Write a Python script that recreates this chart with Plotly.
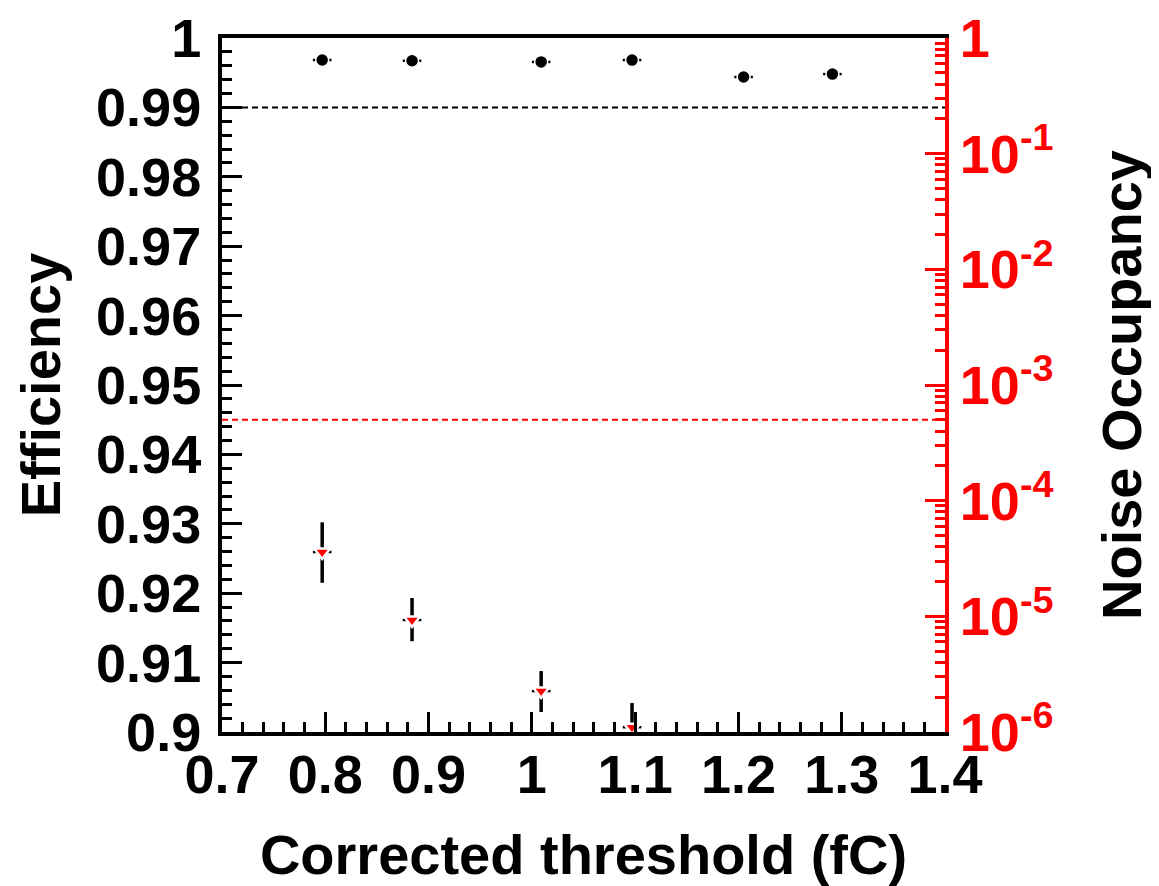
import numpy as np
import plotly.graph_objects as go

# efficiency points (left axis)
thr = [0.797, 0.884, 1.009, 1.097, 1.205, 1.291]
eff = [0.99683, 0.99672, 0.99655, 0.99682, 0.99438, 0.99480]
eff_err = [0.0001, 0.0001, 0.0001, 0.0001, 0.0001, 0.00015]
thr_err = [0.009, 0.009, 0.009, 0.009, 0.009, 0.009]

# noise occupancy points (right axis, log)
thr_noise = [0.797, 0.884, 1.009, 1.097]
noise = [3.6e-5, 9.3e-6, 2.26e-6, 1.1e-6]
noise_up = [6.5e-5, 1.44e-5, 3.37e-6, 1.78e-6]
noise_lo = [1.95e-5, 6.1e-6, 1.49e-6, 6.0e-7]

eff_target = 0.99
noise_target = 5e-4

x_ticks = [0.7, 0.8, 0.9, 1.0, 1.1, 1.2, 1.3, 1.4]
log_ticks = [1, 1e-1, 1e-2, 1e-3, 1e-4, 1e-5, 1e-6]
log_labels = ["1", "10<sup>-1</sup>", "10<sup>-2</sup>", "10<sup>-3</sup>",
              "10<sup>-4</sup>", "10<sup>-5</sup>", "10<sup>-6</sup>"]
log_minor = [m * 10.0 ** e for e in range(-6, 0) for m in range(2, 10)]

FONT = "Liberation Sans"
RED = "#ff0000"
TICK_SIZE = 54
TITLE_SIZE = 56

fig = go.Figure()

fig.add_trace(go.Scatter(
    x=[x_ticks[0], x_ticks[-1]], y=[eff_target, eff_target],
    mode="lines", line=dict(color="black", width=2, dash="6px,4px"),
    showlegend=False, hoverinfo="skip",
))
fig.add_trace(go.Scatter(
    x=[x_ticks[0], x_ticks[-1]], y=[noise_target, noise_target],
    yaxis="y2", mode="lines", line=dict(color=RED, width=2, dash="6px,4px"),
    showlegend=False, hoverinfo="skip",
))

fig.add_trace(go.Scatter(
    x=thr, y=eff, mode="markers",
    marker=dict(symbol="circle", size=13, color="black",
                line=dict(color="white", width=1.5)),
    error_x=dict(type="data", array=thr_err, color="black", thickness=2.5, width=0),
    error_y=dict(type="data", array=eff_err, color="black", thickness=2, width=0),
    showlegend=False,
))

err_plus = [u - v for u, v in zip(noise_up, noise)]
err_minus = [v - l for v, l in zip(noise, noise_lo)]
fig.add_trace(go.Scatter(
    x=thr_noise, y=noise, yaxis="y2", mode="markers",
    marker=dict(symbol="triangle-down", size=14, color=RED,
                line=dict(color="white", width=2.5)),
    error_x=dict(type="data", array=thr_err[:4], color="black", thickness=2.5, width=0),
    error_y=dict(type="data", array=err_plus, arrayminus=err_minus,
                 color="black", thickness=3.5, width=0),
    showlegend=False,
))

fig.update_layout(
    width=1159, height=886,
    margin=dict(l=214, r=222, t=30, b=162),
    paper_bgcolor="white", plot_bgcolor="white",
    font=dict(family=FONT, color="black", size=TICK_SIZE, weight="bold"),
    xaxis=dict(
        range=[0.7, 1.4], tickvals=x_ticks, automargin=False,
        ticklabeloverflow="allow", ticklabelstandoff=-8,
        ticks="inside", ticklen=20, tickwidth=3, tickcolor="black",
        showline=True, linecolor="black", linewidth=4, mirror=True,
        showgrid=False, zeroline=False,
        minor=dict(ticks="inside", ticklen=10, tickwidth=3, dtick=0.02,
                   tickcolor="black", showgrid=False),
        tickfont=dict(size=TICK_SIZE, family=FONT, weight="bold"),
        title=dict(text="Corrected threshold (fC)",
                   font=dict(size=TITLE_SIZE, family=FONT, weight="bold"), standoff=33),
    ),
    yaxis=dict(
        range=[0.9, 1.0], dtick=0.01, automargin=False,
        ticklabeloverflow="allow", ticklabelstandoff=6,
        ticks="inside", ticklen=20, tickwidth=3, tickcolor="black",
        showline=True, linecolor="black", linewidth=4,
        showgrid=False, zeroline=False,
        minor=dict(ticks="inside", ticklen=10, tickwidth=3, dtick=0.002,
                   tickcolor="black", showgrid=False),
        tickfont=dict(size=TICK_SIZE, family=FONT, weight="bold"),
        title=dict(text="Efficiency",
                   font=dict(size=TITLE_SIZE, family=FONT, weight="bold"), standoff=18),
    ),
    yaxis2=dict(
        type="log", range=[-6, 0], overlaying="y", side="right", automargin=False,
        ticklabeloverflow="allow",
        tickmode="array", tickvals=log_ticks, ticktext=log_labels,
        ticks="inside", ticklen=20, tickwidth=3, tickcolor=RED,
        showline=True, linecolor=RED, linewidth=4,
        showgrid=False, zeroline=False,
        minor=dict(ticks="inside", ticklen=10, tickwidth=3,
                   tickvals=log_minor, tickcolor=RED, showgrid=False),
        tickfont=dict(size=TICK_SIZE, family=FONT, weight="bold", color=RED),
        title=dict(text="Noise Occupancy",
                   font=dict(size=TITLE_SIZE, family=FONT, weight="bold", color="black"),
                   standoff=50),
    ),
)

fig.write_html("out.html")
